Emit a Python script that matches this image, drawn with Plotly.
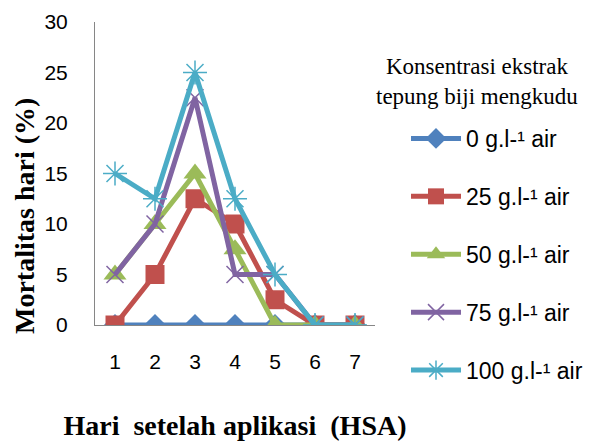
import plotly.graph_objects as go

days = [1, 2, 3, 4, 5, 6, 7]
y_ticks = [0, 5, 10, 15, 20, 25, 30]
series_names = ["0 g.l-¹ air", "25 g.l-¹ air", "50 g.l-¹ air", "75 g.l-¹ air", "100 g.l-¹ air"]
s0 = [0, 0, 0, 0, 0, 0, 0]
s25 = [0, 5, 12.5, 10, 2.5, 0, 0]
s50 = [5, 10, 15, 7.5, 0, 0, 0]
s75 = [5, 10, 22.5, 5, 5, 0, 0]
s100 = [15, 12.5, 25, 12.5, 5, 0, 0]
legend_title = "Konsentrasi ekstrak<br>tepung biji mengkudu"
x_title = "Hari  setelah aplikasi  (HSA)"
y_title = "Mortalitas hari (%)"

colors = ["#4F81BD", "#C0504D", "#9BBB59", "#8064A2", "#4BACC6"]
symbols = ["diamond", "square", "triangle-up", "x-thin-open", "asterisk-open"]
sizes = [17, 19, 20, 17, 20]

# page body has an 8px margin, so the figure is 8px smaller and everything shifted
W, H = 585, 433
L, R, T, B = 87, 218, 14, 116
PW, PH = W - L - R, H - T - B


def px(x):
    return (x - L) / PW


def py(y):
    return (H - B - y) / PH


fig = go.Figure()
for i, (name, vals) in enumerate(zip(series_names, [s0, s25, s50, s75, s100])):
    fig.add_trace(go.Scatter(
        x=days, y=vals, name=name, mode="lines+markers",
        legendgroup=str(i),
        line=dict(color=colors[i], width=5),
        marker=dict(symbol=symbols[i], size=sizes[i], color=colors[i],
                    line=dict(color=colors[i], width=1.5 if i >= 3 else 0)),
    ))

fig.add_annotation(
    text=legend_title, xref="paper", yref="paper",
    x=px(469), y=py(74), xanchor="center", yanchor="middle",
    showarrow=False, align="center",
    font=dict(family="Liberation Serif", size=23, color="black"),
)
fig.add_annotation(
    text="<b>" + y_title + "</b>", xref="paper", yref="paper",
    x=px(16), y=py(208), xanchor="center", yanchor="middle",
    showarrow=False, textangle=-90,
    font=dict(family="Liberation Serif", size=28, color="black"),
)

fig.update_layout(
    width=W, height=H,
    margin=dict(l=L, r=R, t=T, b=B, autoexpand=False),
    plot_bgcolor="white", paper_bgcolor="white",
    font=dict(family="Liberation Sans", size=21, color="black"),
    showlegend=True,
    legend=dict(
        x=px(398), xanchor="left", y=py(109), yanchor="top",
        font=dict(family="Liberation Sans", size=23),
        tracegroupgap=25,
        traceorder="grouped",
        itemwidth=50,
        maxheight=1,
        bgcolor="rgba(0,0,0,0)",
    ),
    xaxis=dict(
        range=[0.5, 7.5], tickvals=days, showline=True, linecolor="#868686", linewidth=1,
        showgrid=False, zeroline=False, ticks="", ticklabelstandoff=18, automargin=False,
        title=dict(text="<b>" + x_title + "</b>", standoff=43,
                   font=dict(family="Liberation Serif", size=28)),
    ),
    yaxis=dict(
        range=[0, 30], tickvals=y_ticks, showline=True, linecolor="#868686", linewidth=1,
        showgrid=False, zeroline=False, ticks="", ticklabelstandoff=22, automargin=False,
    ),
)

fig.write_html("out.html")
